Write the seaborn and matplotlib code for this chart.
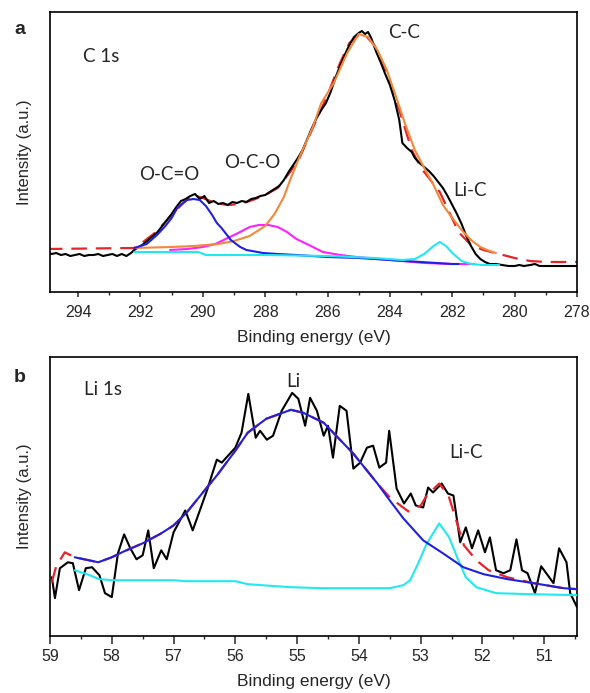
import numpy as np
import pandas as pd
import matplotlib
matplotlib.use("Agg")
import matplotlib.pyplot as plt
from matplotlib.ticker import MultipleLocator
import seaborn as sns

# ---------------- Panel a : C 1s ----------------
c_raw_ev = [295.0, 294.85, 294.7, 294.55, 294.4, 294.25, 294.1, 293.95, 293.8, 293.65, 293.5, 293.35,
            293.2, 293.05, 292.9, 292.75, 292.6, 292.45, 292.3, 292.2, 292.05, 291.9, 291.75, 291.6,
            291.45, 291.3, 291.15, 291.0, 290.85, 290.7, 290.55, 290.4, 290.25, 290.1, 289.95, 289.8,
            289.65, 289.5, 289.35, 289.2, 289.05, 288.9, 288.75, 288.6, 288.45, 288.3, 288.15, 288.0,
            287.85, 287.7, 287.55, 287.4, 287.25, 287.1, 286.95, 286.8, 286.65, 286.5, 286.35, 286.2,
            286.05, 285.9, 285.75, 285.6, 285.45, 285.3, 285.15, 285.0, 284.9, 284.8, 284.7, 284.6,
            284.45, 284.3, 284.15, 284.0, 283.85, 283.7, 283.6, 283.45, 283.3, 283.2, 283.05, 282.9,
            282.75, 282.6, 282.45, 282.3, 282.15, 282.0, 281.85, 281.7, 281.55, 281.4, 281.25, 281.1,
            280.95, 280.8, 280.6, 280.4, 280.2, 280.0, 279.85, 279.7, 279.5, 279.35, 279.2, 279.0,
            278.5, 278.0]
c_raw_int = [40, 38, 39, 37, 38, 36, 37, 38, 36, 37, 37, 38,
             36, 37, 38, 36, 38, 36, 39, 42, 45, 48, 52, 56,
             60, 66, 72, 78, 85, 91, 93, 96, 98, 93, 96, 89,
             91, 88, 89, 87, 90, 89, 91, 90, 93, 94, 96, 97,
             100, 103, 106, 112, 120, 127, 134, 142, 153, 164, 174, 182,
             189, 200, 214, 226, 237, 247, 255, 259, 261, 258, 260, 254,
             241, 230, 218, 207, 192, 172, 149, 144, 140, 134, 129, 125,
             121, 116, 110, 104, 96, 87, 78, 68, 56, 46, 38, 33,
             30, 28, 28, 27, 26, 26, 27, 26, 27, 28, 26, 26,
             26, 26]

c_env_ev = [295.0, 292.2, 292.0, 291.5, 291.0, 290.5, 290.3, 290.0, 289.6, 289.2, 288.8, 288.4,
            288.0, 287.6, 287.2, 286.9, 286.5, 286.0, 285.6, 285.3, 285.0, 284.8, 284.5, 284.2,
            283.9, 283.6, 283.3, 283.0, 282.7, 282.4, 282.1, 281.8, 281.4, 281.0, 280.5, 280.0,
            279.5, 279.0, 278.0]
c_env_int = [43, 44, 48, 60, 77, 93, 97, 94, 89, 87, 88, 92,
             97, 104, 120, 134, 162, 197, 229, 249, 257, 257, 247, 227,
             202, 172, 142, 124, 112, 100, 80, 60, 47, 42, 38, 34,
             31, 30, 30]

cc_ev = [292.2, 291.0, 290.3, 289.5, 289.0, 288.5, 288.0, 287.7, 287.4, 287.2, 286.9, 286.47,
         286.2, 285.8, 285.37, 285.0, 284.7, 284.4, 284.1, 283.8, 283.5, 283.2, 282.9, 282.6,
         282.3, 282.0, 281.7, 281.4, 281.1, 280.8, 280.6]
cc_int = [44, 45, 46, 48, 51, 56, 66, 78, 95, 112, 135, 165,
          189, 209, 239, 258, 255, 242, 222, 195, 167, 142, 124, 107,
          87, 74, 62, 52, 45, 41, 39]

oco2_ev = [292.2, 291.8, 291.47, 291.2, 291.0, 290.8, 290.5, 290.3, 290.1, 289.9, 289.7, 289.55,
           289.4, 289.1, 288.8, 288.6, 288.07, 287.6, 287.0, 286.0, 285.0, 284.0, 283.0, 282.0, 281.8]
oco2_int = [44, 48, 57, 66, 74, 85, 92, 93, 92, 86, 77, 69,
            64, 52, 45, 42, 39, 38, 37, 35, 34, 32, 30, 28, 28]

oco_ev = [291.05, 290.5, 290.0, 289.6, 289.2, 288.8, 288.5, 288.2, 287.9, 287.6, 287.3, 287.0,
          286.6, 286.15, 285.6, 285.06, 284.0, 282.9, 282.0, 281.3]
oco_int = [42, 43, 45, 48, 54, 60, 65, 67, 67, 65, 60, 53,
           47, 40, 37, 35, 32, 29, 28, 28]

lic_a_ev = [292.2, 291.0, 290.15, 289.9, 288.0, 286.0, 284.5, 283.6, 283.2, 282.9, 282.6, 282.4,
            282.2, 282.0, 281.7, 281.4, 281.0, 280.5]
lic_a_int = [40, 40, 40, 37, 37, 36, 34, 32, 33, 38, 46, 50,
             46, 39, 31, 28, 27, 27]

# ---------------- Panel b : Li 1s ----------------
li_raw_ev = [58.97, 58.92, 58.84, 58.71, 58.63, 58.53, 58.42, 58.32, 58.2, 58.11, 58.0, 57.9,
             57.8, 57.7, 57.6, 57.5, 57.41, 57.32, 57.2, 57.11, 57.0, 56.81, 56.69, 56.46,
             56.3, 56.22, 56.0, 55.9, 55.79, 55.67, 55.6, 55.49, 55.39, 55.25, 55.08, 54.98,
             54.87, 54.79, 54.68, 54.57, 54.5, 54.42, 54.31, 54.2, 54.09, 53.98, 53.87, 53.77,
             53.67, 53.56, 53.51, 53.39, 53.27, 53.16, 53.08, 52.96, 52.88, 52.8, 52.66, 52.56,
             52.47, 52.36, 52.27, 52.17, 52.07, 51.96, 51.88, 51.78, 51.66, 51.55, 51.45, 51.36,
             51.27, 51.15, 51.05, 50.85, 50.76, 50.64, 50.58, 50.47]
li_raw_int = [59, 38, 68, 74, 73, 46, 68, 69, 61, 43, 39, 83,
              102, 88, 77, 81, 106, 68, 86, 77, 104, 126, 106, 146,
              177, 174, 189, 204, 243, 199, 206, 197, 201, 226, 244, 238,
              211, 239, 226, 201, 211, 179, 231, 226, 168, 174, 189, 191,
              169, 174, 206, 148, 133, 143, 131, 129, 149, 144, 153, 143,
              141, 94, 109, 88, 106, 84, 99, 66, 63, 66, 97, 66,
              63, 43, 70, 53, 88, 74, 43, 29]

li_fit_ev = [58.6, 58.22, 58.0, 57.8, 57.5, 57.2, 57.0, 56.8, 56.5, 56.3, 56.0, 55.8,
             55.5, 55.1, 54.9, 54.57, 54.09, 53.7, 53.5, 53.28, 52.96, 52.64, 52.31, 51.98,
             51.59, 51.17, 50.69, 50.47]
li_fit_int = [79, 74, 79, 85, 93, 103, 111, 123, 146, 161, 186, 204,
              218, 227, 224, 214, 183, 153, 136, 118, 96, 83, 69, 62,
              57, 53, 48, 47]

li_env_ev = [58.97, 58.9, 58.76, 58.6, 58.22, 58.0, 57.8, 57.5, 57.2, 57.0, 56.8, 56.5,
             56.3, 56.0, 55.8, 55.5, 55.1, 54.9, 54.57, 54.09, 53.7, 53.5, 53.2, 53.0,
             52.9, 52.7, 52.55, 52.4, 52.3, 52.1, 51.9, 51.6, 51.17, 50.69, 50.47]
li_env_int = [54, 70, 84, 79, 74, 79, 85, 93, 103, 111, 123, 146,
              161, 186, 204, 218, 227, 224, 214, 183, 153, 139, 125, 131,
              141, 153, 141, 111, 91, 76, 66, 59, 53, 48, 47]

lic_b_ev = [58.6, 58.4, 58.2, 58.0, 57.0, 56.8, 56.0, 55.8, 55.11, 54.6, 53.5, 53.28,
            53.17, 53.04, 52.9, 52.7, 52.54, 52.41, 52.27, 52.1, 51.78, 51.25, 50.47]
lic_b_int = [66, 62, 57, 56, 56, 55, 55, 52, 49, 48, 48, 51,
             56, 73, 93, 113, 99, 79, 59, 49, 43, 42, 41]

# ---------------- style ----------------
sns.set_style("ticks")
plt.rcParams['font.family'] = ['Liberation Sans', 'DejaVu Sans']
plt.rcParams['xtick.direction'] = 'out'

fig = plt.figure(figsize=(5.9, 6.93), dpi=100)
ax1 = fig.add_axes([50/590, 1-292/693, 527/590, 280/693])
ax2 = fig.add_axes([50/590, 1-636/693, 527/590, 279/693])

RED = '#e8232a'
BLUE = '#2020e0'
MAG = '#ff22ff'
CYAN = '#22e8f2'
ORANGE = '#f0893a'
lw = 1.5

def line(ax, x, y, color, dashed=False, zorder=2, lwid=lw):
    df = pd.DataFrame({'x': x, 'y': y})
    sns.lineplot(data=df, x='x', y='y', ax=ax, color=color, sort=False,
                 estimator=None, linewidth=lwid, zorder=zorder,
                 dashes=False)
    if dashed:
        ax.lines[-1].set_dashes([7, 4])

# Panel a
line(ax1, c_raw_ev, c_raw_int, 'black', zorder=3)
line(ax1, cc_ev, cc_int, ORANGE, zorder=4)
line(ax1, oco_ev, oco_int, MAG, zorder=3)
line(ax1, oco2_ev, oco2_int, BLUE, zorder=4)
line(ax1, lic_a_ev, lic_a_int, CYAN, zorder=4)
line(ax1, c_env_ev, c_env_int, RED, dashed=True, zorder=2, lwid=1.6)

# Panel b
line(ax2, li_raw_ev, li_raw_int, 'black', zorder=3)
line(ax2, lic_b_ev, lic_b_int, CYAN, zorder=4)
line(ax2, li_env_ev, li_env_int, RED, dashed=True, zorder=4, lwid=1.6)
line(ax2, li_fit_ev, li_fit_int, BLUE, zorder=5)

for ax in (ax1, ax2):
    ax.set_ylim(0, 280)
    ax.set_yticks([])
    ax.set_ylabel('Intensity (a.u.)', fontsize=12, labelpad=13)
    ax.set_xlabel('Binding energy (eV)', fontsize=12.5, labelpad=7)
    for s in ax.spines.values():
        s.set_linewidth(1.2)
        s.set_color('black')

ax1.tick_params(axis='x', which='major', length=3.8, width=1.1, labelsize=11.5, pad=5.5)
ax1.tick_params(axis='x', which='minor', length=2.2, width=1.0)
ax2.tick_params(axis='x', which='major', length=6, width=1.1, labelsize=11.5, pad=3.5)
ax2.tick_params(axis='x', which='minor', length=2.5, width=1.0)

ax1.set_xlim(294.9, 278)
ax1.xaxis.set_major_locator(MultipleLocator(2))
ax1.xaxis.set_minor_locator(MultipleLocator(1))
ax2.set_xlim(59, 50.47)
ax2.xaxis.set_major_locator(MultipleLocator(1))
ax2.xaxis.set_minor_locator(MultipleLocator(0.5))

afont = dict(family=['Lato', 'DejaVu Sans'], fontsize=13.5, ha='center', va='center')
ax1.text(293.26, 235, 'C 1s', **afont)
ax1.text(291.08, 117, 'O-C=O', **afont)
ax1.text(288.42, 129, 'O-C-O', **afont)
ax1.text(283.55, 260, 'C-C', **afont)
ax1.text(281.44, 102, 'Li-C', **afont)

ax2.text(58.14, 247, 'Li 1s', **afont)
ax2.text(55.06, 255, 'Li', **afont)
ax2.text(52.26, 184, 'Li-C', **afont)

fig.text(20/590, 1-30/693, 'a', fontsize=14, fontweight='bold', ha='center', va='center')
fig.text(20/590, 1-378/693, 'b', fontsize=14, fontweight='bold', ha='center', va='center')

fig.savefig('out.png', dpi=100)
